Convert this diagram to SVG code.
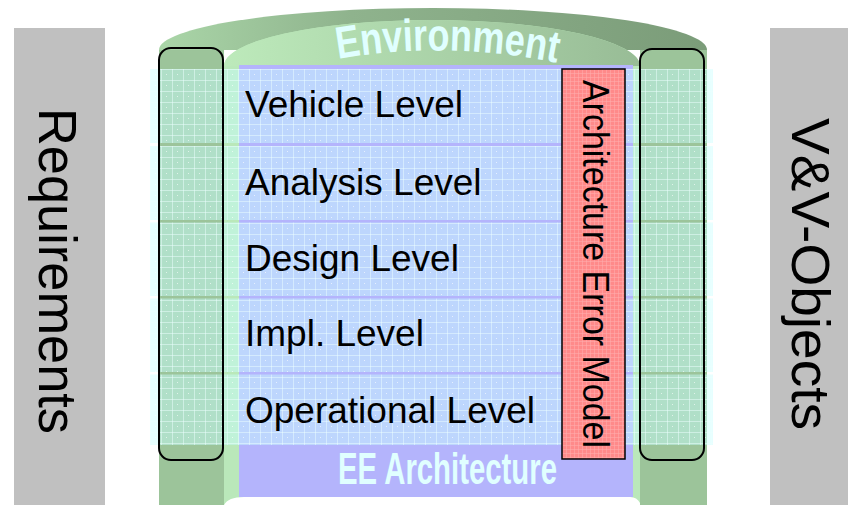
<svg xmlns="http://www.w3.org/2000/svg" width="848" height="505" viewBox="0 0 848 505">
  <defs>
    <!-- translucent cyan grid laid over each level band -->
    <pattern id="grid" width="11" height="11" patternUnits="userSpaceOnUse" x="150" y="69">
      <rect width="11" height="11" fill="#c8ffff" fill-opacity="0.45"/>
      <path d="M0,0.5H11M0.5,0V11" stroke="#ecffff" stroke-opacity="0.5" stroke-width="1"/>
      <rect x="5" y="5" width="1" height="1" fill="#ffffff" fill-opacity="0.6"/>
    </pattern>
    <!-- fine texture of the error model box -->
    <pattern id="redgrid" width="4" height="4" patternUnits="userSpaceOnUse" x="562" y="69">
      <rect width="4" height="4" fill="#ff8a8a"/>
      <path d="M0,0.5H4M0.5,0V4" stroke="#ffb0b0" stroke-opacity="0.5" stroke-width="1"/>
    </pattern>
    <linearGradient id="rimGrad" x1="0" y1="0" x2="1" y2="0">
      <stop offset="0" stop-color="#aad6a8"/>
      <stop offset="0.35" stop-color="#8fb38d"/>
      <stop offset="1" stop-color="#7b9c79"/>
    </linearGradient>
    <linearGradient id="backGrad" x1="0" y1="0" x2="1" y2="0">
      <stop offset="0" stop-color="#bdeabb"/>
      <stop offset="1" stop-color="#98bc96"/>
    </linearGradient>
    <style>
      .side { fill: #c0c0c0; }
      .wall { fill: #9cc49a; }
      .inner { fill: #bae8ba; }
      .band { fill: url(#grid); }
      .frame { fill: none; stroke: #000000; stroke-width: 2; }
      .lvl { font-family: "Liberation Sans", Arial, sans-serif; font-size: 37px; fill: #000000; }
      .big { font-family: "Liberation Sans", Arial, sans-serif; font-size: 54px; fill: #000000; }
      .art { font-family: "Liberation Sans", Arial, sans-serif; font-weight: bold; fill: #e0ffff; }
    </style>
  </defs>

  <rect width="848" height="505" fill="#ffffff"/>

  <!-- side columns -->
  <g id="requirements">
    <rect class="side" x="14" y="28" width="91" height="477"/>
    <text class="big" transform="translate(38.5,108) rotate(90)" textLength="326" lengthAdjust="spacingAndGlyphs">Requirements</text>
  </g>
  <g id="vv-objects">
    <rect class="side" x="770" y="28" width="78" height="477"/>
    <text class="big" transform="translate(792,118) rotate(90)" textLength="312" lengthAdjust="spacingAndGlyphs">V&amp;V-Objects</text>
  </g>

  <!-- cylinder body -->
  <g id="environment">
    <rect class="wall" x="159" y="50" width="65" height="455"/>
    <rect class="wall" x="640" y="50" width="67" height="455"/>
    <path d="M159,50 A274,42 0 0 1 707,50 Z" fill="url(#rimGrad)"/>
    <path class="inner" d="M224,66 A208,46 0 0 1 640,66 L640,503 Q637,497 630,497 L244,497 Q228,497 224,505 Z"/>
    <path d="M224,66 A208,46 0 0 1 640,66 Z" fill="url(#backGrad)"/>
    <path id="envArc" d="M338,59 Q447,40 558,63" fill="none"/>
    <text class="art" font-size="45"><textPath href="#envArc" textLength="220" lengthAdjust="spacingAndGlyphs">Environment</textPath></text>
  </g>

  <!-- front panel -->
  <g id="ee-architecture">
    <rect x="239" y="65" width="394" height="432" fill="#b4b4fc"/>
    <text class="art" x="338" y="484" font-size="45" textLength="219" lengthAdjust="spacingAndGlyphs">EE Architecture</text>
  </g>

  <!-- level bands -->
  <g id="levels">
    <g id="vehicle-level">
      <rect class="band" x="150" y="69" width="563" height="74"/>
      <text class="lvl" x="245" y="117">Vehicle Level</text>
    </g>
    <g id="analysis-level">
      <rect class="band" x="150" y="146" width="563" height="74"/>
      <text class="lvl" x="245" y="195">Analysis Level</text>
    </g>
    <g id="design-level">
      <rect class="band" x="150" y="222.5" width="563" height="73.5"/>
      <text class="lvl" x="245" y="271">Design Level</text>
    </g>
    <g id="impl-level">
      <rect class="band" x="150" y="298.5" width="563" height="73.5"/>
      <text class="lvl" x="245" y="346">Impl. Level</text>
    </g>
    <g id="operational-level">
      <rect class="band" x="150" y="374.5" width="563" height="70.5"/>
      <text class="lvl" x="245" y="423">Operational Level</text>
    </g>
  </g>

  <!-- error model box -->
  <g id="architecture-error-model">
    <rect x="562" y="69" width="63" height="390" fill="url(#redgrid)" stroke="#000000" stroke-width="1.5"/>
    <text class="lvl" font-size="35" transform="translate(583,80) rotate(90)" textLength="368" lengthAdjust="spacingAndGlyphs">Architecture Error Model</text>
  </g>

  <!-- column frames -->
  <g id="frames">
    <rect class="frame" x="159" y="48" width="64" height="412" rx="12"/>
    <rect class="frame" x="640" y="49" width="64" height="411" rx="12"/>
  </g>
</svg>
